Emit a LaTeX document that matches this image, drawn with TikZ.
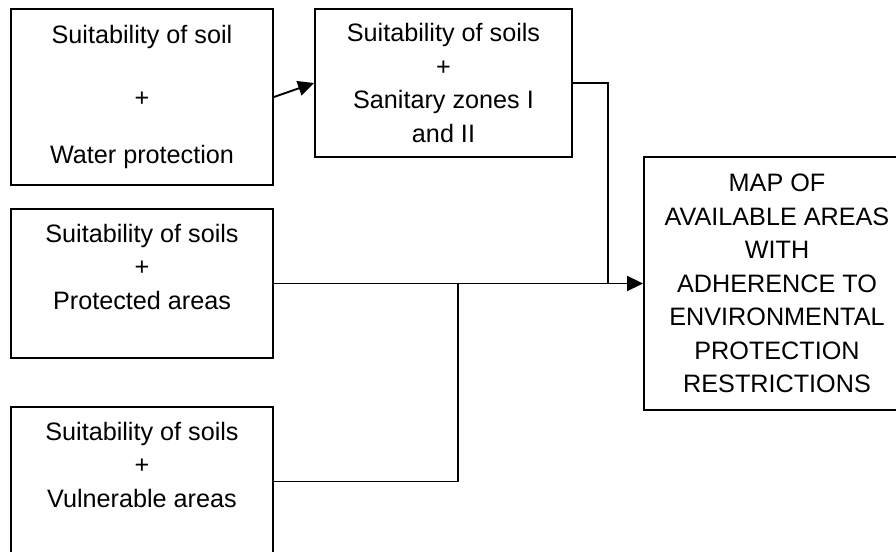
\documentclass[tikz,border=0pt]{standalone}
\usepackage{fontspec}
\setmainfont{Liberation Sans}
\usetikzlibrary{arrows.meta}
\tikzstyle{Box}=[rectangle, draw=black, line width=1.9pt, align=center, inner sep=0pt, font=\fontsize{25.2}{33.5}\selectfont]

\begin{document}
\begin{tikzpicture}[x=1pt, y=-1pt, line width=1.9pt]
    \clip (0,0) rectangle (896,551);
    \path
    (142,97) node[Box, minimum width=262, minimum height=176] (sw) {Suitability of soil\\[29.5pt] +\\[23.5pt] Water protection}
    (443.5,83) node[Box, minimum width=257, minimum height=148] (ss) {Suitability of soils\\ +\\ Sanitary zones I\\ and II}
    (142,283.5) node[Box, minimum width=262, minimum height=149] (sp) {Suitability of soils\\ +\\ Protected areas\\ ~}
    (142,481.5) node[Box, minimum width=262, minimum height=149] (sv) {Suitability of soils\\ +\\ Vulnerable areas\\ ~}
    (777,283.5) node[Box, minimum width=266, minimum height=253] (map) {MAP OF\\ AVAILABLE AREAS\\ WITH\\ ADHERENCE TO\\ ENVIRONMENTAL\\ PROTECTION\\ RESTRICTIONS};

    \coordinate (jv) at (458,283.5);
    \coordinate (js) at (608,283.5);

    \draw[-{Triangle[length=16pt,width=15pt]}] (sw.east) -- (ss.west);
    \draw[-{Triangle[length=16pt,width=15pt]}] (sp.east) -- (map.west);
    \draw (ss.east) -| (js);
    \draw (sv.east) -| (jv);
\end{tikzpicture}
\end{document}
